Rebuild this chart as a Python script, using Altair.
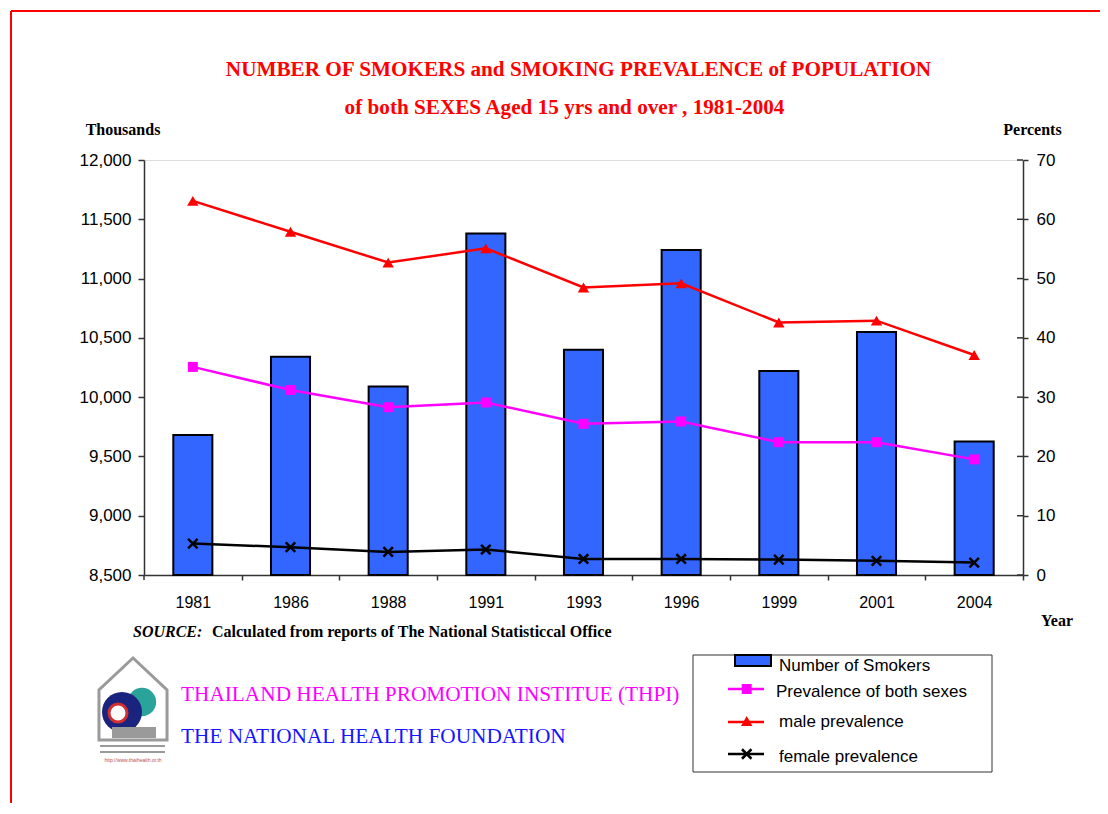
import altair as alt
import pandas as pd

# ---------------- data ----------------
years = ["1981", "1986", "1988", "1991", "1993", "1996", "1999", "2001", "2004"]
smokers = [9680, 10340, 10090, 11380, 10400, 11240, 10220, 10550, 9625]
both_prev = [35.1, 31.2, 28.3, 29.1, 25.5, 25.9, 22.4, 22.4, 19.5]
male_prev = [63.1, 57.9, 52.7, 55.1, 48.5, 49.2, 42.6, 42.9, 37.1]
female_prev = [5.3, 4.7, 3.9, 4.3, 2.7, 2.7, 2.6, 2.4, 2.1]
series_names = ["Prevalence of both sexes", "male prevalence", "female prevalence"]
series_colors = ["#FF00FF", "#FF0000", "#000000"]
left_ticks = [8500, 9000, 9500, 10000, 10500, 11000, 11500, 12000]
right_ticks = [0, 10, 20, 30, 40, 50, 60, 70]
left_min, left_max = 8500, 12000

W, H = 879, 415
SERIF = "Liberation Serif"
SANS = "Liberation Sans"
XPATH = "M-1,-1L1,1M-1,1L1,-1"

bars_df = pd.DataFrame({"Year": years, "Smokers": smokers})
rows = []
for name, vals in zip(series_names, [both_prev, male_prev, female_prev]):
    for yr, v in zip(years, vals):
        rows.append({"Year": yr, "Series": name, "Pct": v})
pct_df = pd.DataFrame(rows)
rt_df = pd.DataFrame({"t": right_ticks})

step = W / (len(years) - 0.6 + 2 * 0.3)
xscale = alt.Scale(type="band", domain=years, paddingInner=0.6, paddingOuter=0.3)
xaxis = alt.Axis(title=None, labelAngle=0, tickOffset=step / 2, labelOffset=-step / 2,
                 labelFont=SANS, labelFontSize=16, labelColor="black",
                 tickColor="#333", tickSize=5, tickWidth=1.5, labelOverlap=False,
                 domainColor="#333", domainWidth=1.5, labelPadding=14, grid=False)
X = alt.X("Year:N", scale=xscale, axis=xaxis)

yl = alt.Y("Smokers:Q", scale=alt.Scale(domain=[left_min, left_max], nice=False, zero=False),
           stack=None,
           axis=alt.Axis(title=None, orient="left", values=left_ticks, format=",.0f",
                         labelFont=SANS, labelFontSize=17, labelColor="black",
                         tickColor="#333", tickSize=6, tickWidth=1.5,
                         domainColor="#333", domainWidth=1.5, labelPadding=7, grid=False))

pscale = alt.Scale(domain=[0, 70], nice=False, zero=True)
paxis = alt.Axis(title=None, orient="right", values=right_ticks,
                 labelFont=SANS, labelFontSize=17, labelColor="black",
                 tickColor="#333", tickSize=5, tickWidth=1.5,
                 domainColor="#333", domainWidth=1.5, labelPadding=8, grid=False)

bars = alt.Chart(bars_df).mark_bar(color="#3366FF", stroke="black", strokeWidth=2).encode(
    x=X, y=yl, y2=alt.datum(left_min))

color = alt.Color("Series:N", scale=alt.Scale(domain=series_names, range=series_colors), legend=None)
lines = alt.Chart(pct_df).mark_line(strokeWidth=2.5).encode(
    x=X, y=alt.Y("Pct:Q", scale=pscale, axis=paxis), color=color)
pts = alt.Chart(pct_df).transform_filter(
    alt.datum.Series != "female prevalence").mark_point(filled=True, opacity=1).encode(
    x=X, y=alt.Y("Pct:Q", scale=pscale, axis=paxis), color=color,
    shape=alt.Shape("Series:N", scale=alt.Scale(domain=series_names[:2], range=["square", "triangle-up"]), legend=None),
    size=alt.Size("Series:N", scale=alt.Scale(domain=series_names[:2], range=[100, 130]), legend=None))
xpts = alt.Chart(pct_df).transform_filter(
    alt.datum.Series == "female prevalence").mark_point(
    shape=XPATH, filled=False, size=90, strokeWidth=2.5, color="black", opacity=1).encode(
    x=X, y=alt.Y("Pct:Q", scale=pscale, axis=paxis))
inticks = alt.Chart(rt_df).mark_rule(color="#333", strokeWidth=1.5).encode(
    y=alt.Y("t:Q", scale=pscale, axis=paxis), x=alt.value(W - 6), x2=alt.value(W))

pct_layer = alt.layer(lines, pts, xpts, inticks)

one = pd.DataFrame({"a": [0]})


def txt(s, x, y, size, color="black", font=SERIF, weight="normal", style="normal", align="left"):
    return alt.Chart(one).mark_text(text=s, font=font, fontSize=size, color=color, fontWeight=weight,
                                    fontStyle=style, align=align, baseline="middle").encode(
        x=alt.value(x), y=alt.value(y))


def rule(x, y, x2=None, y2=None, color="black", width=1.0):
    enc = {"x": alt.value(x), "y": alt.value(y)}
    if x2 is not None:
        enc["x2"] = alt.value(x2)
    if y2 is not None:
        enc["y2"] = alt.value(y2)
    return alt.Chart(one).mark_rule(color=color, strokeWidth=width).encode(**enc)


def sym(x, y, shape, size, color, filled=True, stroke=None, sw=1.0):
    kw = dict(shape=shape, size=size, filled=filled, opacity=1, strokeWidth=sw)
    if filled:
        kw["fill"] = color
        if stroke:
            kw["stroke"] = stroke
    else:
        kw["stroke"] = color
    return alt.Chart(one).mark_point(**kw).encode(x=alt.value(x), y=alt.value(y))


def box(x, y, x2, y2, fill, stroke=None, sw=1.0):
    kw = dict(fill=fill, strokeWidth=sw)
    if stroke:
        kw["stroke"] = stroke
    return alt.Chart(one).mark_rect(**kw).encode(
        x=alt.value(x), x2=alt.value(x2), y=alt.value(y), y2=alt.value(y2))


decor = [
    # page border
    rule(-133, -149, y2=660, color="#FF0000", width=2),
    rule(-133, -149, x2=970, color="#FF0000", width=2),
    # titles
    txt("NUMBER OF SMOKERS and SMOKING PREVALENCE of POPULATION", 434.5, -90, 21.2, "#FF0000",
        weight="bold", align="center"),
    txt("of both SEXES Aged 15 yrs and over , 1981-2004", 420.5, -52, 21.2, "#FF0000",
        weight="bold", align="center"),
    txt("Thousands", -21, -30, 16, weight="bold", align="center"),
    txt("Percents", 888.5, -30, 16, weight="bold", align="center"),
    txt("Year", 913, 461, 16, weight="bold", align="center"),
    txt("SOURCE:", -11, 472, 16, weight="bold", style="italic"),
    txt("Calculated from reports of The National Statisticcal Office", 68, 472, 16, weight="bold"),
    txt("THAILAND HEALTH PROMOTION INSTITUE (THPI)", 37, 535, 21.3, "#FF00FF"),
    txt("THE NATIONAL HEALTH FOUNDATION", 37, 577, 21.3, "#1515FF"),
    # first x tick at the left edge
    rule(0, H, y2=H + 5, color="#333", width=1.5),
    # logo approximation
    sym(-11, 539, "M0,-1L-0.83,-0.22L-0.83,1L0.83,1L0.83,-0.22Z", 6724, "#9a9a9a", filled=False, sw=3),
    sym(-2, 542, "circle", 800, "#2aa39a"),
    sym(-22, 552, "circle", 1600, "#1a237e"),
    sym(-26, 553, "circle", 324, "white", stroke="#d03030", sw=3),
    box(-32, 567, 12, 578, "#9a9a9a"),
    rule(-44, 586, x2=21, color="#9a9a9a", width=2),
    rule(-44, 592, x2=21, color="#9a9a9a", width=2),
    txt("http://www.thaihealth.or.th", -11, 600, 5, "#c05050", font=SANS, align="center"),
    # legend
    box(549, 495, 848, 612, "white", stroke="#333", sw=1),
    box(591, 495, 627, 506, "#3366FF", stroke="black", sw=2),
    txt("Number of Smokers", 635, 506, 17, font=SANS),
    rule(584, 529, x2=620, color="#FF00FF", width=2.5),
    sym(602.7, 529, "square", 100, "#FF00FF"),
    txt("Prevalence of both sexes", 632, 531.5, 17, font=SANS),
    rule(584, 562, x2=620, color="#FF0000", width=2.5),
    sym(602.7, 561, "triangle-up", 130, "#FF0000"),
    txt("male prevalence", 635, 562, 17, font=SANS),
    rule(584, 594, x2=620, color="black", width=2.5),
    sym(602.7, 594, XPATH, 90, "black", filled=False, sw=2.5),
    txt("female prevalence", 635, 597, 17, font=SANS),
]

chart = alt.layer(bars, pct_layer, *decor).resolve_scale(y="independent").properties(
    width=W, height=H,
    padding={"left": 136, "top": 152, "right": 77, "bottom": 228},
    autosize=alt.AutoSizeParams(type="none"),
).configure_view(stroke="#888888", strokeWidth=2).configure(background="white")

chart.save("out.html", embed_options={"renderer": "svg", "actions": False})
